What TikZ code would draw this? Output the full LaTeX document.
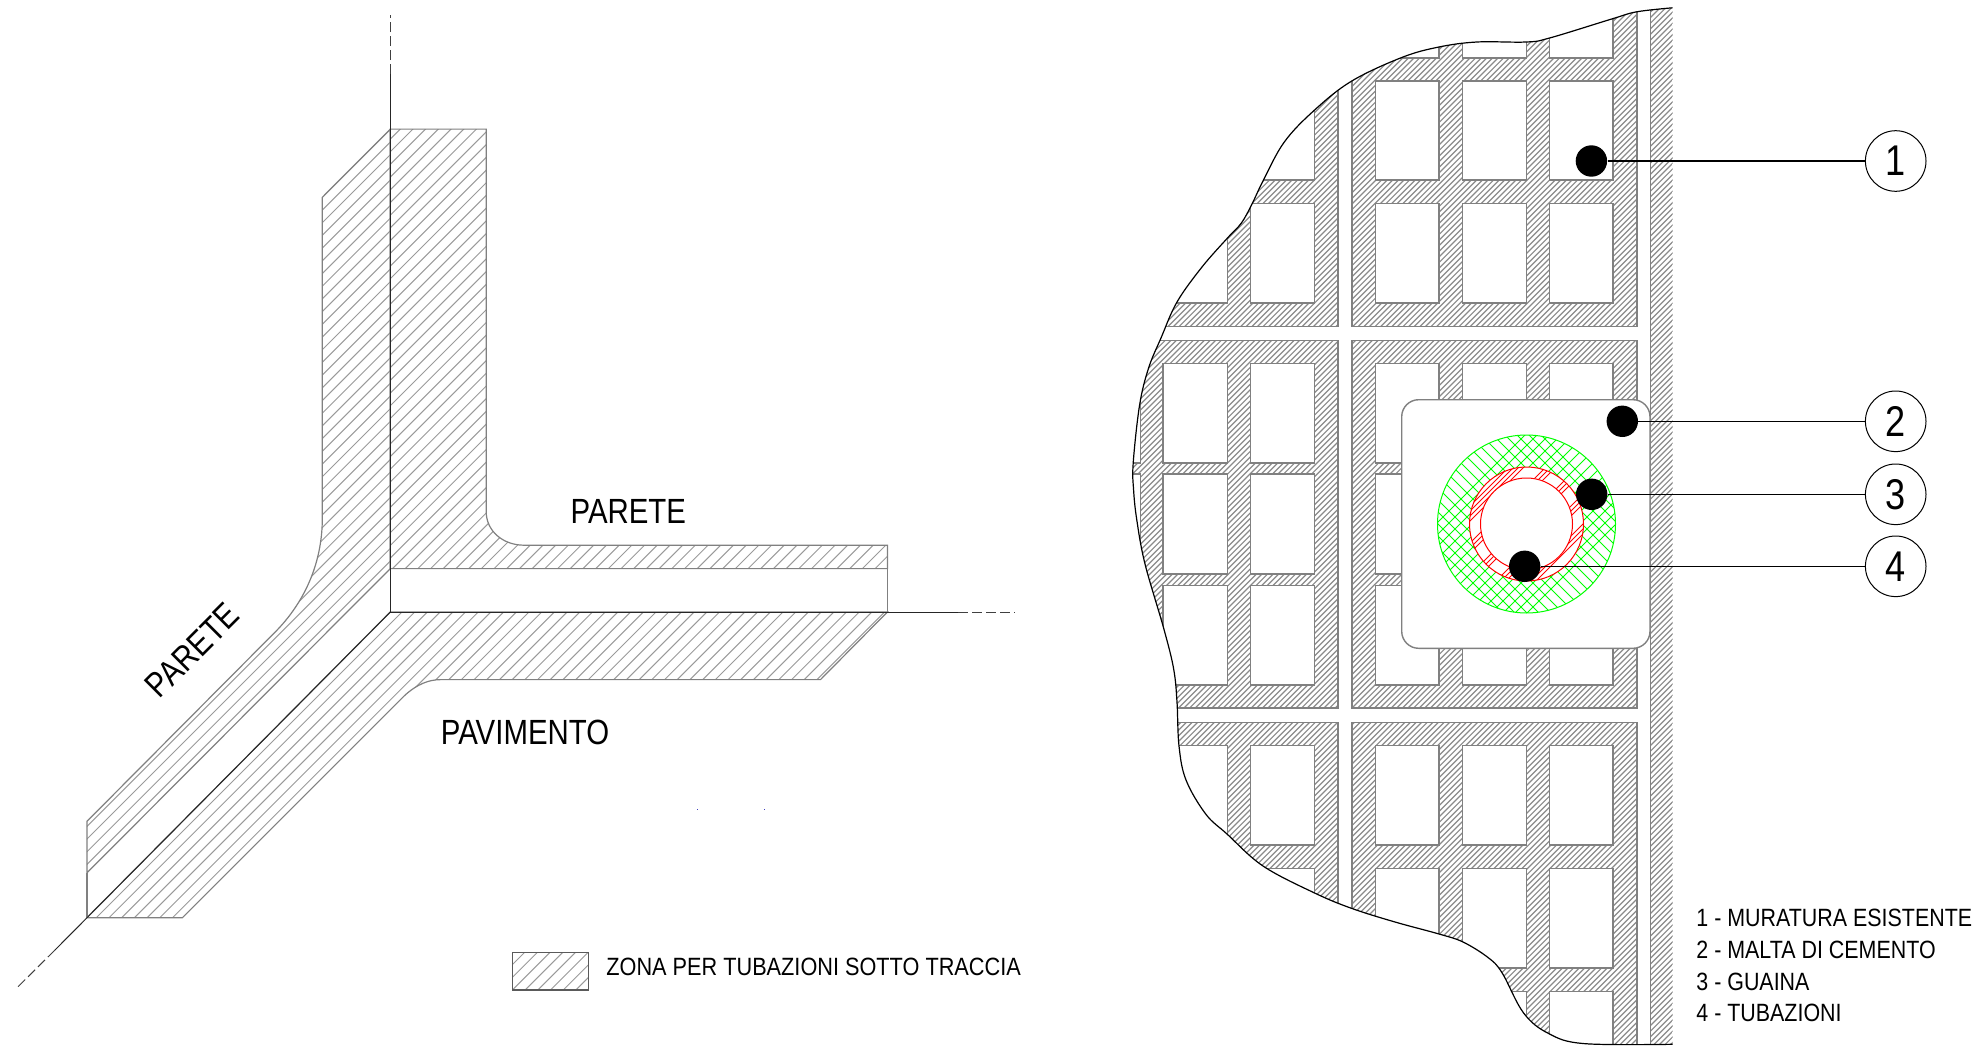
\documentclass[tikz,border=0pt]{standalone}
\usepackage{fontspec}
\setmainfont{Liberation Sans}
\newfontfamily\cad[FakeStretch=0.868]{Liberation Sans}
\newfontfamily\cadkey[FakeStretch=0.857]{Liberation Sans}
\newfontfamily\cadbig[FakeStretch=0.84]{Liberation Sans}
\definecolor{wallgray}{HTML}{808080}
\definecolor{hatchgray}{HTML}{9A9A9A}
\definecolor{densegray}{HTML}{8A8A8A}
\definecolor{pure green}{RGB}{0,255,0}
\definecolor{pure red}{RGB}{255,0,0}
\newcommand{\hatchfwd}[3]{\foreach \c in {#1,#2,...,#3}{\draw ({\c-1200},1200) -- ({\c+100},-100);}}
\newcommand{\hatchback}[3]{\foreach \c in {#1,#2,...,#3}{\draw ({\c-100},-100) -- ({\c+1200},1200);}}
\tikzset{
  axis line/.style={black!85,line width=0.5pt},
  axis dash/.style={black!75,line width=0.5pt,dash pattern=on 5pt off 2pt},
  zone edge/.style={wallgray,line width=0.6pt},
  zone hatch/.style={hatchgray,line width=0.5pt},
  mesh edge/.style={wallgray,line width=0.75pt},
  mesh hatch/.style={densegray,line width=0.6pt},
  void cell/.style={fill=white,draw=wallgray,line width=0.75pt},
  big label/.style={font=\cadbig\fontsize{17.5}{20}\selectfont,inner sep=0pt},
  small label/.style={font=\cad\fontsize{12.5}{14}\selectfont,inner sep=0pt,anchor=west},
  key label/.style={font=\cadkey\fontsize{12.5}{14}\selectfont,inner sep=0pt,anchor=west},
  black dot/.style={circle,fill=black,inner sep=0pt,minimum size=15.7pt},
  balloon/.style={circle,draw=black,line width=0.5pt,fill=white,inner sep=0pt,minimum size=30.3pt,font=\cadbig\fontsize{21.5}{24}\selectfont},
  leader/.style={black,line width=0.55pt}
}
\begin{document}
\begin{tikzpicture}[x=0.5pt,y=-0.5pt]
\useasboundingbox (0,0) rectangle (1972,1049);
% ---------- left drawing ----------
\coordinate (O) at (390.3,612);
\coordinate (vs) at (390.3,74);
\coordinate (vt) at (390.3,15);
\coordinate (hs) at (958.4,612);
\coordinate (ht) at (1014.8,612);
\coordinate (ds) at (55,950);
\coordinate (dt) at (16.7,988);
\coordinate (wt) at (390.3,129.1);
\coordinate (bw) at (390.3,568.6);
\coordinate (be) at (887.4,568.6);
\coordinate (fe) at (887.4,612);
\coordinate (fw) at (86.9,917.7);
\coordinate (lw) at (86.9,872.9);
\def\rightwall{(wt) -- (486.2,129.1) -- (486.2,511.7) .. controls (486.2,531) and (503,545.2) .. (524,545.2) -- (887.4,545.2) -- (be) -- (bw) -- cycle}
\def\leftwall{(wt) -- (322.3,197.3) -- (322.3,518.4) .. controls (322.3,565) and (303,604) .. (275.2,632) -- (86.9,821.4) -- (lw) -- (bw) -- cycle}
\def\floorzone{(O) -- (fe) -- (820.5,679.6) -- (441,679.6) .. controls (429,679.6) and (417,684) .. (404.1,696) -- (182.4,917.7) -- (fw) -- cycle}
\begin{scope}[zone hatch]
  \begin{scope}\clip \rightwall; \hatchfwd{529.3}{542}{1460} \end{scope}
  \begin{scope}\clip \leftwall; \hatchfwd{519.6}{532.3}{960} \end{scope}
  \begin{scope}\clip \floorzone; \hatchfwd{1001.3}{1014}{1500} \end{scope}
\end{scope}
\draw[zone edge] \rightwall;
\draw[zone edge] \leftwall;
\draw[zone edge] \floorzone;
\draw[zone edge] (be) -- (fe);
\draw[zone edge] (lw) -- (fw);
\draw[axis line] (vs) -- (O) -- (hs);
\draw[axis line] (O) -- (ds);
\draw[axis dash] (vs) -- (vt);
\draw[axis dash] (hs) -- (ht);
\draw[axis dash] (ds) -- (dt);
\node[big label] (labA) at (628.3,511.8) {PARETE};
\node[big label] (labB) at (525,732.4) {PAVIMENTO};
\node[big label,rotate=45] (labC) at (192.3,650) {PARETE};
\fill[blue!50!gray] (697.2,809) rectangle (698.2,810);
\fill[blue!50!gray] (764.2,809) rectangle (765.2,810);
% legend
\begin{scope}
  \clip (512.7,952.3) rectangle (588.3,990);
  \begin{scope}[zone hatch]\hatchfwd{1477}{1489.7}{1590}\end{scope}
\end{scope}
\draw[wallgray!70!black,line width=0.6pt] (512.7,952.3) rectangle (588.3,990);
\node[small label] (legz) at (606,967.2) {ZONA PER TUBAZIONI SOTTO TRACCIA};
% ---------- right drawing ----------
\def\outlinepath{plot[smooth,tension=0.6] coordinates{(1672.5,7.8) (1636.8,11.8) (1613,18.6) (1549.6,38) (1526.4,42) (1477,42) (1439,47) (1402,57.4) (1351.8,81) (1314.6,110) (1284.3,142) (1263,181) (1252,204) (1241.4,223) (1227.5,238) (1202,267) (1177,302) (1161,338) (1148.6,368) (1139.6,405) (1133.2,463) (1133.6,490) (1136.8,520) (1145,564) (1163.6,628) (1173.6,668.6) (1177,702) (1179,746) (1186,780) (1205.7,814) (1227,834) (1263,866) (1314.6,893) (1352,908.5) (1395,922) (1439,934) (1463,942) (1488,957.5) (1502,972.7) (1523.6,1013) (1548.6,1033.5) (1584,1043.6) (1672.5,1044.3)}}
\begin{scope}
  \clip \outlinepath -- cycle;
  \begin{scope}
    \clip (1000,-50) rectangle (1337.9,326.4) (1351.8,-50) rectangle (1636.8,326.4)
          (1000,340.5) rectangle (1337.9,708.2) (1351.8,340.5) rectangle (1636.8,708.2)
          (1000,722.7) rectangle (1337.9,1100) (1351.8,722.7) rectangle (1636.8,1100)
          (1650.7,-50) rectangle (1672.5,1100);
    \begin{scope}[mesh hatch]\hatchfwd{1136}{1141.6}{2730}\end{scope}
  \end{scope}
  \foreach \xa/\xb in {1000/1337.9,1351.8/1636.8}{
    \foreach \ya/\yb in {-50/326.4,340.5/708.2,722.7/1100}{
      \draw[mesh edge] (\xa,\ya) rectangle (\xb,\yb);
    }}
  \draw[mesh edge] (1650.7,-50) rectangle (1672.5,1100);
  \foreach \xa/\xb in {1000/1140.7,1163.2/1227.5,1250.7/1314.6,1375.7/1438.9,1462.5/1526.4,1549.6/1613.2}{
    \foreach \ya/\yb in {-50/58.1,81.1/180,203.7/303,363.5/463.2,474/574,585.5/684.9,745.7/845,868.3/968,991.3/1100}{
      \draw[void cell] (\xa,\ya) rectangle (\xb,\yb);
    }}
\end{scope}
\draw[black,line width=0.6pt] \outlinepath;
% mortar patch
\draw[fill=white,draw=wallgray,line width=0.7pt,rounded corners=8.5pt] (1401.7,399.7) rectangle (1650,648.3);
\coordinate (cc) at (1526.5,524);
\begin{scope}
  \clip (cc) circle[radius=89];
  \begin{scope}[pure green,line width=0.42pt]
    \hatchfwd{1960}{1972}{2150}
    \hatchback{890}{902}{1110}
  \end{scope}
\end{scope}
\draw[pure green,line width=0.5pt] (cc) circle[radius=89];
\draw[draw=pure red,fill=white,line width=0.5pt] (cc) circle[radius=57];
\begin{scope}
  \clip (cc) circle[radius=57];
  \begin{scope}[pure red,line width=0.42pt]
    \foreach \g in {1976,1981,1986,1991,2013,2018,2023,2045,2050,2055,2077,2082,2087,2107,2112,2117}{
      \draw ({\g-1200},1200) -- ({\g+100},-100);
    }
  \end{scope}
\end{scope}
\draw[draw=pure red,fill=white,line width=0.5pt] (cc) circle[radius=46];
% leaders and balloons
\node[black dot] (d1) at (1591.4,161) {};
\node[black dot] (d2) at (1622.3,421.3) {};
\node[black dot] (d3) at (1591.7,494.3) {};
\node[black dot] (d4) at (1524.7,566.3) {};
\node[balloon] (b1) at (1895.7,161) {1};
\node[balloon] (b2) at (1895.7,421.3) {2};
\node[balloon] (b3) at (1895.7,494.3) {3};
\node[balloon] (b4) at (1895.7,566.3) {4};
\draw[leader] (d1) -- (b1);
\draw[leader] (d2) -- (b2);
\draw[leader] (d3) -- (b3);
\draw[leader] (d4) -- (b4);
\node[key label] (k1) at (1696,917.7) {1 - MURATURA ESISTENTE};
\node[key label] (k2) at (1696,950) {2 - MALTA DI CEMENTO};
\node[key label] (k3) at (1696,981.7) {3 - GUAINA};
\node[key label] (k4) at (1696,1013) {4 - TUBAZIONI};
\end{tikzpicture}
\end{document}
